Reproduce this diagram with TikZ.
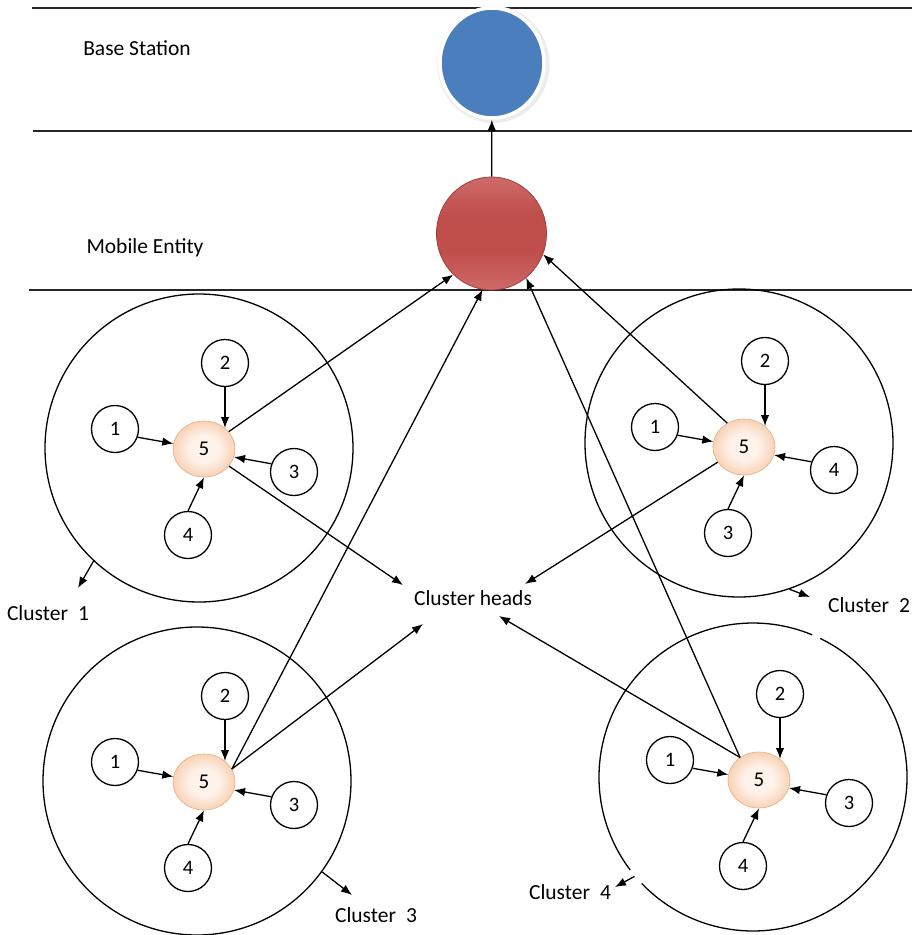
\documentclass[tikz,border=0pt]{standalone}
\usepackage{fontspec}
\setmainfont{Carlito}
\usetikzlibrary{arrows.meta,shapes.geometric,calc}
\definecolor{bsblue}{RGB}{74,126,189}
\definecolor{mered}{RGB}{192,78,75}
\definecolor{melight}{RGB}{222,140,138}
\definecolor{medge}{RGB}{160,62,60}
\definecolor{headin}{RGB}{254,242,234}
\definecolor{headout}{RGB}{244,188,146}
\definecolor{headedge}{RGB}{232,172,128}
\pgfdeclareverticalshading{redball}{100bp}{color(0bp)=(melight); color(22bp)=(melight!55!mered); color(42bp)=(mered); color(58bp)=(mered); color(78bp)=(melight!55!mered); color(100bp)=(melight)}
\pgfdeclareradialshading{peach}{\pgfpoint{0bp}{0bp}}{color(0bp)=(headin); color(12bp)=(headin); color(34bp)=(headout); color(50bp)=(headout)}
\newcommand\mkcluster[4]{%
  \begin{scope}[shift={#2}]
    \node[head] (#1n5) at (0,0) {5};
    \node[small] (#1n1) at (-89,-20) {1};
    \node[small] (#1n2) at (21,-86) {2};
    \node[small] (#1nr) at (90,23) {#3};
    \node[small] (#1nb) at (-16,86) {#4};
  \end{scope}
  \draw[arr] (#1n1.-20) -- (#1n5.170);
  \draw[arr] (#1n2.south) -- (#1n2.south |- #1n5.45);
  \draw[arr] (#1nr.160) -- (#1n5.-15);
  \draw[arr] (#1nb.north) -- (#1n5.south);
}
\begin{document}
\begin{tikzpicture}[x=1pt,y=-1pt,
  arr/.style={-{Latex[length=11pt,width=8.5pt]}, line width=1.3pt},
  small/.style={circle, draw, line width=1.3pt, minimum size=47pt, inner sep=0pt, font=\fontsize{20.5}{24}\selectfont},
  head/.style={ellipse, minimum width=62pt, minimum height=56pt, inner sep=0pt, shading=peach, draw=headedge, line width=0.6pt, font=\fontsize{21}{24}\selectfont},
  big/.style={circle, draw, line width=1.3pt, minimum size=308pt, inner sep=0pt},
  lab/.style={font=\fontsize{21.5}{25}\selectfont, inner sep=0pt},
  layer/.style={line width=1.8pt, draw=black!85}
]
\useasboundingbox (0,0) rectangle (912,935);
\fill[white] (0,0) rectangle (912,935);

% layer separators
\draw[layer] (32,8) -- (912,8);
\draw[layer] (33,131) -- (912,131);
\draw[layer] (29,290) -- (912,290);

% base station and mobile entity
\fill[black!7] (493.5,64.5) ellipse [x radius=56, y radius=58.5];
\node[ellipse, minimum width=104pt, minimum height=110pt, inner sep=0pt, fill=bsblue, draw=white, line width=3.5pt] (bs) at (492,63) {};
\node[ellipse, minimum width=110pt, minimum height=113pt, inner sep=0pt, shading=redball, draw=medge, line width=0.8pt] (me) at (491.5,233.5) {};
\draw[arr] (me) -- (bs);

\node[lab] (bsl) at (137,48) {Base Station};
\node[lab] (mel) at (145,248) {Mobile Entity};

% cluster circles
\node[big] (c1) at (199,448) {};
\node[big] (c2) at (739,443) {};
\node[big] (c3) at (197,781) {};
\node[big, draw=none] (c4) at (753,777) {};
\draw[line width=1.3pt] ($(c4.center)+(-64.1:154)$) arc[start angle=-64.1, end angle=136.3, radius=154];
\draw[line width=1.3pt] ($(c4.center)+(142.9:154)$) arc[start angle=142.9, end angle=292.6, radius=154];

% cluster contents
\mkcluster{A}{(204,449)}{3}{4}
\mkcluster{B}{(744,447)}{4}{3}
\mkcluster{C}{(204,782)}{3}{4}
\mkcluster{D}{(759,780)}{3}{4}

% cluster heads
\node[lab] (ch) at (473,598) {Cluster heads};
\coordinate (chA) at (403,585);
\coordinate (chB) at (525,584);
\coordinate (chC) at (423,624);
\coordinate (chD) at (499,616);

\draw[arr] (An5.35) -- (me.227);
\draw[arr] (An5) -- (chA);
\draw[arr] (Bn5.125) -- (me.338);
\draw[arr] (Bn5.210) -- (chB);
\draw[arr] (Cn5.25) -- (me.261.6);
\draw[arr] (Cn5.25) -- (chC);
\draw[arr] (Dn5.130) -- (me.308);
\draw[arr] (Dn5.130) -- (chD);

% cluster labels
\node[lab] (l1) at (48,613) {Cluster\hspace{10pt}1};
\node[lab] (l2) at (869,605) {Cluster\hspace{10pt}2};
\node[lab] (l3) at (376,915) {Cluster\hspace{10pt}3};
\node[lab] (l4) at (570,892) {Cluster\hspace{10pt}4};
\coordinate (e1) at (78,588);
\coordinate (e2) at (810,597);
\coordinate (e3) at (352,895);
\coordinate (e4) at (615,887);
\draw[arr] (c1.227) -- (e1);
\draw[arr] (c2.289) -- (e2);
\draw[arr] (c3.324) -- (e3);
\draw[arr] (c4.220) -- (e4);
\end{tikzpicture}
\end{document}
